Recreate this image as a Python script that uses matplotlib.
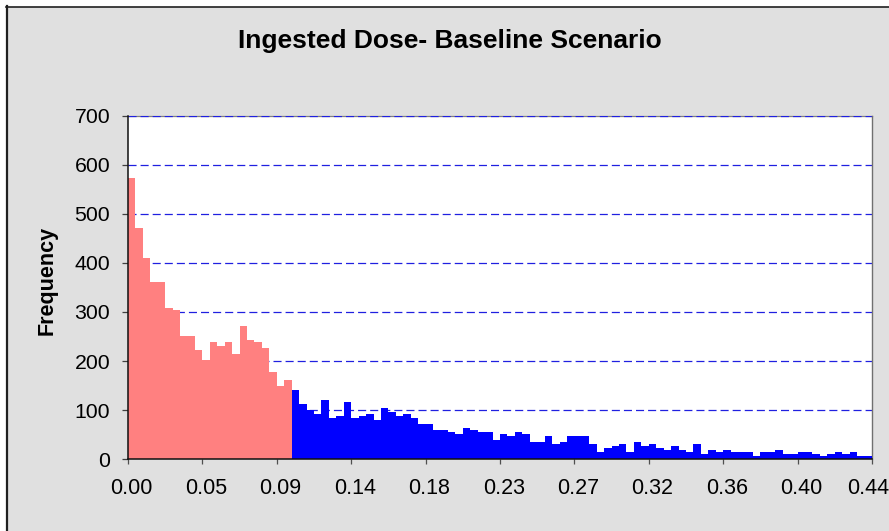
import numpy as np
import matplotlib
matplotlib.use('Agg')
import matplotlib.pyplot as plt
from matplotlib.patches import Rectangle
from matplotlib.lines import Line2D

# bin counts (100 bins)
red_counts = [572, 470, 409, 361, 361, 308, 304, 251, 251, 222, 202, 239, 231, 239,
              214, 271, 243, 239, 227, 178, 149, 161]
blue_counts = [141, 112, 100, 92, 121, 84, 88, 116, 84, 88, 92, 80, 104, 96, 88, 92,
               84, 72, 72, 60, 60, 56, 51, 64, 60, 56, 56, 39, 51, 47, 56, 51, 35, 35,
               47, 31, 35, 47, 47, 47, 31, 15, 23, 27, 31, 15, 35, 27, 31, 23, 19, 27,
               19, 15, 31, 11, 19, 15, 19, 15, 15, 15, 7, 15, 15, 19, 11, 11, 15, 15,
               11, 7, 11, 15, 11, 15, 7, 7]
x_labels = ['0.00', '0.05', '0.09', '0.14', '0.18', '0.23', '0.27', '0.32', '0.36', '0.40', '0.44']
y_ticks = [0, 100, 200, 300, 400, 500, 600, 700]

plt.rcParams['font.family'] = ['Liberation Sans', 'DejaVu Sans']
plt.rcParams['lines.scale_dashes'] = False

W, H = 889, 531
fig = plt.figure(figsize=(W / 100, H / 100), dpi=100, facecolor='white')

# chart area background + left/top border
fig.patches.append(Rectangle((7 / W, 0), 1, 1 - 7 / H, transform=fig.transFigure,
                             facecolor='#E0E0E0', edgecolor='none', zorder=-10))
fig.lines.append(Line2D([6.5 / W, 6.5 / W], [0, 1 - 6 / H], transform=fig.transFigure,
                        color='#202020', lw=1.6, zorder=-5))
fig.lines.append(Line2D([6 / W, 1], [1 - 6.5 / H, 1 - 6.5 / H], transform=fig.transFigure,
                        color='#202020', lw=1.2, zorder=-5))

ax = fig.add_axes([128 / W, 1 - 459.3 / H, 744 / W, (459.3 - 115.5) / H])
ax.set_facecolor('white')

n_red = len(red_counts)
n_all = n_red + len(blue_counts)
ax.bar(np.arange(n_red), red_counts, width=1.0, color='#FF8080', zorder=3, linewidth=0)
ax.bar(np.arange(n_red, n_all), blue_counts, width=1.0, color='#0000FF', zorder=3, linewidth=0)

for y in y_ticks[1:]:
    ax.axhline(y, color='#2020E0', lw=0.9, linestyle=(0, (5.8, 2.9)), zorder=2)

ax.set_xlim(-0.5, n_all - 0.5)
ax.set_ylim(0, 700)

ax.set_yticks(y_ticks)
ax.set_yticklabels([str(v) for v in y_ticks], fontsize=15.3)
ax.tick_params(axis='y', direction='out', length=4.3, width=0.9, color='#404040', pad=8.5)

label_pos = list(range(0, n_all, 10)) + [n_all - 1]
ax.set_xticks(label_pos)
ax.set_xticklabels(x_labels, fontsize=15.5)
ax.tick_params(axis='x', which='major', length=0, pad=13.5)
ax.set_xticks(np.arange(-0.5, n_all, 10), minor=True)
ax.tick_params(axis='x', which='minor', direction='out', length=3.8, width=0.9, color='#505050')

for side in ['left', 'bottom']:
    ax.spines[side].set_color('#101010')
    ax.spines[side].set_linewidth(1.1)
    ax.spines[side].set_zorder(4)
ax.spines['right'].set_color('#707070')
ax.spines['right'].set_linewidth(1.0)
ax.spines['top'].set_color('#808080')
ax.spines['top'].set_linewidth(0.9)
ax.spines['top'].set_zorder(1)

fig.text(450 / W, 1 - 48 / H, 'Ingested Dose- Baseline Scenario', ha='center', va='baseline',
         fontsize=19, fontweight='bold')
fig.text(47 / W, 1 - 280 / H, 'Frequency', ha='center', va='center', rotation=90,
         fontsize=15.5, fontweight='bold')

fig.savefig('out.png', dpi=100, facecolor=fig.get_facecolor())
